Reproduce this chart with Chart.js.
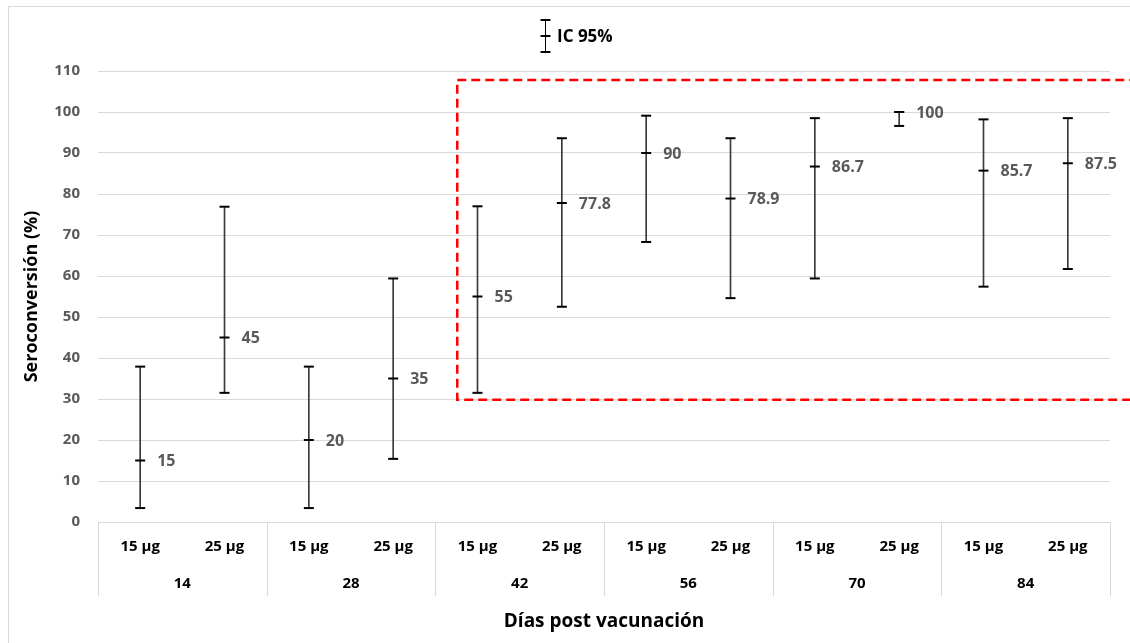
<!DOCTYPE html>
<html>
<head>
<meta charset="utf-8">
<title>Seroconversión</title>
<script src="https://cdn.jsdelivr.net/npm/chart.js@4.4.1/dist/chart.umd.min.js"></script>
<style>
    html, body { margin: 0; padding: 0; background: #fff; overflow: hidden; }
    #marco { position: absolute; left: 8px; top: 6px; width: 1200px; height: 700px; border: 1px solid #d9d9d9; }
    #contenedor { position: absolute; left: 0; top: 0; width: 1130px; height: 643px; }
</style>
</head>
<body>
<div id="marco"></div>
<div id="contenedor"><canvas id="grafico-sero"></canvas></div>
<script>
// datos
const dias = ['14', '28', '42', '56', '70', '84'];
const dosis = ['15 µg', '25 µg', '15 µg', '25 µg', '15 µg', '25 µg', '15 µg', '25 µg', '15 µg', '25 µg', '15 µg', '25 µg'];
const seroconversion = [15, 45, 20, 35, 55, 77.8, 90, 78.9, 86.7, 100, 85.7, 87.5];
const icInferior = [3.4, 31.5, 3.4, 15.4, 31.5, 52.5, 68.3, 54.6, 59.4, 96.6, 57.4, 61.7];
const icSuperior = [37.9, 76.9, 37.9, 59.4, 77, 93.6, 99.1, 93.6, 98.5, 100, 98.2, 98.5];
const yMax = 110;
const yPaso = 10;

// recuadro rojo (en unidades de los ejes)
const recuadro = { xDesde: 3.76, xHasta: 12.5, yDesde: 29.8, yHasta: 107.8 };

const fuente = '"Open Sans", sans-serif';
const grisTexto = '#595959';
const grisLinea = '#d9d9d9';

const intervalos = icInferior.map((v, i) => [v, icSuperior[i]]);

// lineas verticales entre grupos de dias
const separadores = {
    id: 'separadores',
    afterDraw(chart) {
        const s = chart.scales.xDias;
        const ctx = chart.ctx;
        const n = dias.length;
        ctx.save();
        ctx.strokeStyle = grisLinea;
        ctx.lineWidth = 1;
        for (let i = 0; i <= n; i++) {
            const x = Math.round(s.left + i * (s.right - s.left) / n) + 0.5;
            ctx.beginPath();
            ctx.moveTo(x, chart.chartArea.bottom);
            ctx.lineTo(x, s.top + 34);
            ctx.stroke();
        }
        ctx.restore();
    }
};

// etiquetas con el valor de cada punto
const etiquetas = {
    id: 'etiquetas',
    afterDatasetsDraw(chart) {
        const meta = chart.getDatasetMeta(0);
        const ctx = chart.ctx;
        ctx.save();
        ctx.font = 'bold 16px ' + fuente;
        ctx.fillStyle = grisTexto;
        ctx.textAlign = 'left';
        ctx.textBaseline = 'middle';
        meta.data.forEach((p, i) => {
            ctx.fillText(String(seroconversion[i]), p.x + 17, p.y + 1);
        });
        ctx.restore();
    }
};

// recuadro discontinuo
const zona = {
    id: 'zona',
    afterDraw(chart) {
        const x = chart.scales.x, y = chart.scales.y;
        const x1 = x.getPixelForValue(recuadro.xDesde);
        const x2 = x.getPixelForValue(recuadro.xHasta);
        const y1 = y.getPixelForValue(recuadro.yHasta);
        const y2 = y.getPixelForValue(recuadro.yDesde);
        const ctx = chart.ctx;
        ctx.save();
        ctx.strokeStyle = '#ff0000';
        ctx.lineWidth = 2.5;
        ctx.setLineDash([9, 5]);
        ctx.strokeRect(x1, y1, x2 - x1, y2 - y1);
        ctx.restore();
    }
};

// leyenda "IC 95%"
const leyenda = {
    id: 'leyenda',
    afterDraw(chart) {
        const ctx = chart.ctx;
        const cx = 545.5, top = 20, bottom = 52, mid = 36;
        ctx.save();
        ctx.strokeStyle = '#000';
        ctx.lineWidth = 1;
        ctx.beginPath();
        ctx.moveTo(cx, top);
        ctx.lineTo(cx, bottom);
        ctx.stroke();
        ctx.lineWidth = 2;
        [top, mid, bottom].forEach(yy => {
            ctx.beginPath();
            ctx.moveTo(cx - 5, yy);
            ctx.lineTo(cx + 5, yy);
            ctx.stroke();
        });
        ctx.font = 'bold 17px ' + fuente;
        ctx.fillStyle = '#000';
        ctx.textAlign = 'left';
        ctx.textBaseline = 'middle';
        ctx.fillText('IC 95%', 557, 37);
        ctx.restore();
    }
};

const marca = {
    type: 'line',
    showLine: false,
    pointStyle: 'line',
    pointRadius: 5,
    pointHoverRadius: 5,
    pointBorderWidth: 2,
    pointBorderColor: '#000',
    borderColor: '#000',
    order: 1
};

new Chart(document.getElementById('grafico-sero'), {
    type: 'bar',
    data: {
        labels: dosis,
        datasets: [
            Object.assign({ label: 'Seroconversión', data: seroconversion }, marca),
            Object.assign({ label: 'IC inferior', data: icInferior }, marca),
            Object.assign({ label: 'IC superior', data: icSuperior }, marca),
            {
                type: 'bar',
                label: 'IC 95%',
                data: intervalos,
                backgroundColor: '#3a3a3a',
                barThickness: 1,
                order: 2
            }
        ]
    },
    options: {
        responsive: true,
        maintainAspectRatio: false,
        animation: false,
        layout: { padding: { top: 71, right: 20, left: 0, bottom: 0 } },
        plugins: {
            legend: { display: false },
            tooltip: { enabled: false }
        },
        scales: {
            x: {
                type: 'category',
                offset: true,
                weight: 0,
                grid: { display: false, drawTicks: false },
                border: { display: true, color: grisLinea },
                ticks: {
                    color: '#000',
                    font: { family: fuente, size: 15, weight: 'bold' },
                    padding: 16,
                    maxRotation: 0,
                    autoSkip: false
                },
                afterFit(s) { s.height = 40; }
            },
            xDias: {
                type: 'category',
                labels: dias,
                position: 'bottom',
                offset: true,
                weight: 1,
                grid: { display: false, drawTicks: false },
                border: { display: false },
                ticks: {
                    color: '#000',
                    font: { family: fuente, size: 15, weight: 'bold' },
                    padding: 13,
                    maxRotation: 0,
                    autoSkip: false
                },
                title: {
                    display: true,
                    text: 'Días post vacunación',
                    color: '#000',
                    font: { family: fuente, size: 19, weight: 'bold' },
                    padding: { top: 0, bottom: 10 }
                },
                afterFit(s) { s.height = 81; }
            },
            y: {
                min: 0,
                max: yMax,
                grid: { color: grisLinea, drawTicks: false },
                border: { display: false },
                ticks: {
                    stepSize: yPaso,
                    color: grisTexto,
                    font: { family: fuente, size: 15, weight: 'bold' },
                    padding: 18
                },
                title: {
                    display: true,
                    text: 'Seroconversión (%)',
                    color: '#000',
                    font: { family: fuente, size: 18, weight: 'bold' },
                    padding: { top: 21, bottom: 0 }
                },
                afterFit(s) { s.width = 98; }
            }
        }
    },
    plugins: [separadores, etiquetas, zona, leyenda]
});
</script>
</body>
</html>
